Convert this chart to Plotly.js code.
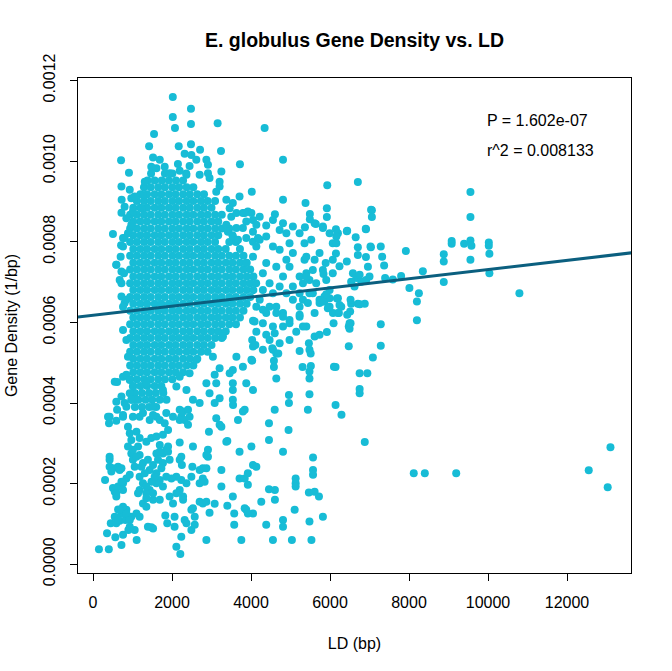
<!DOCTYPE html>
<html>
<head>
<meta charset="utf-8">
<script src="https://cdn.plot.ly/plotly-3.0.1.min.js"></script>
<style>
  html, body { margin: 0; padding: 0; background: #fff; }
</style>
</head>
<body>
<div id="ld_density"></div>
<script>
// dense core of the cloud, read row by row (LD in bp, gene density in 1/bp)
var coreLd = [
  1380, 1560, 1740, 1920, 2100, 2280,
  1290, 1460, 1650, 1820, 2010, 2180, 2370, 2540,
  1200, 1370, 1560, 1730, 1920, 2090, 2280, 2450, 2640, 2810,
  1110, 1290, 1460, 1650, 1820, 2010, 2180, 2370, 2540, 2730, 2900, 3090,
  1020, 1200, 1370, 1560, 1730, 1920, 2090, 2280, 2450, 2640, 2810, 3000,
  940, 1110, 1290, 1460, 1650, 1820, 2010, 2180, 2370, 2540, 2730, 2900, 3090, 3260,
  1020, 1200, 1370, 1560, 1730, 1920, 2090, 2280, 2450, 2640, 2810, 3000, 3170,
  940, 1110, 1290, 1460, 1650, 1820, 2010, 2180, 2370, 2540, 2730, 2900, 3090, 3260, 3450,
  1020, 1200, 1370, 1560, 1730, 1920, 2090, 2280, 2450, 2640, 2810, 3000, 3170, 3530,
  940, 1110, 1290, 1460, 1650, 1820, 2010, 2180, 2370, 2540, 2730, 2900, 3090, 3450, 3620,
  1020, 1200, 1370, 1560, 1730, 1920, 2090, 2280, 2450, 2640, 2810, 3000, 3170, 3360, 3720,
  940, 1110, 1290, 1460, 1650, 1820, 2010, 2180, 2370, 2540, 2730, 2900, 3090, 3260, 3450, 3620, 3810,
  1020, 1200, 1370, 1560, 1730, 1920, 2090, 2280, 2450, 2640, 2810, 3000, 3170, 3360, 3530, 3720, 3890,
  940, 1110, 1290, 1460, 1650, 1820, 2010, 2180, 2370, 2540, 2730, 2900, 3090, 3260, 3450, 3620, 3810, 3980,
  1020, 1200, 1370, 1560, 1730, 1920, 2090, 2280, 2450, 2640, 2810, 3000, 3170, 3360, 3530, 3720, 3890, 4060,
  940, 1110, 1290, 1460, 1650, 1820, 2010, 2180, 2370, 2540, 2730, 2900, 3090, 3260, 3450, 3620, 3810, 3980, 4130,
  1020, 1200, 1370, 1560, 1730, 1920, 2090, 2280, 2450, 2640, 2810, 3000, 3170, 3360, 3530, 3720, 3890, 4060,
  940, 1110, 1290, 1460, 1650, 1820, 2010, 2180, 2370, 2540, 2730, 2900, 3090, 3260, 3450, 3620, 3810, 3980,
  1020, 1200, 1370, 1560, 1730, 1920, 2090, 2280, 2450, 2640, 2810, 3000, 3170, 3360, 3530, 3720, 3890,
  940, 1110, 1290, 1460, 1650, 1820, 2010, 2180, 2370, 2540, 2730, 2900, 3090, 3260, 3450, 3620, 3810,
  1020, 1200, 1370, 1560, 1730, 1920, 2090, 2280, 2450, 2640, 2810, 3000, 3170, 3360, 3530, 3720,
  940, 1110, 1290, 1460, 1650, 1820, 2010, 2180, 2370, 2540, 2730, 2900, 3090, 3260, 3450, 3620,
  1020, 1200, 1370, 1560, 1730, 1920, 2090, 2280, 2450, 2640, 2810, 3000, 3170, 3360,
  940, 1110, 1290, 1460, 1650, 1820, 2010, 2180, 2370, 2540, 2730, 2900, 3090, 3260,
  1020, 1200, 1370, 1560, 1730, 1920, 2090, 2280, 2450, 2640, 2810, 3000,
  940, 1110, 1290, 1460, 1650, 1820, 2010, 2180, 2370, 2540, 2730, 2900,
  1020, 1200, 1370, 1560, 1730, 1920, 2090, 2280, 2450, 2640,
  940, 1110, 1290, 1460, 1650, 1820, 2010, 2180, 2370, 2540,
  1020, 1200, 1370, 1560, 1730, 1920, 2090, 2280,
  940, 1110, 1290, 1460, 1650, 1820, 2010,
  1020, 1200, 1370, 1560, 1730
];
var coreDensity = [
  0.000952, 0.000952, 0.000952, 0.000952, 0.000952, 0.000952,
  0.000935, 0.000935, 0.000935, 0.000935, 0.000935, 0.000935, 0.000935, 0.000935,
  0.000918, 0.000918, 0.000918, 0.000918, 0.000918, 0.000918, 0.000918, 0.000918, 0.000918, 0.000918,
  0.000901, 0.000901, 0.000901, 0.000901, 0.000901, 0.000901, 0.000901, 0.000901, 0.000901, 0.000901, 0.000901, 0.000901,
  0.000884, 0.000884, 0.000884, 0.000884, 0.000884, 0.000884, 0.000884, 0.000884, 0.000884, 0.000884, 0.000884, 0.000884,
  0.000867, 0.000867, 0.000867, 0.000867, 0.000867, 0.000867, 0.000867, 0.000867, 0.000867, 0.000867, 0.000867, 0.000867, 0.000867, 0.000867,
  0.00085, 0.00085, 0.00085, 0.00085, 0.00085, 0.00085, 0.00085, 0.00085, 0.00085, 0.00085, 0.00085, 0.00085, 0.00085,
  0.000833, 0.000833, 0.000833, 0.000833, 0.000833, 0.000833, 0.000833, 0.000833, 0.000833, 0.000833, 0.000833, 0.000833, 0.000833, 0.000833, 0.000833,
  0.000816, 0.000816, 0.000816, 0.000816, 0.000816, 0.000816, 0.000816, 0.000816, 0.000816, 0.000816, 0.000816, 0.000816, 0.000816, 0.000816,
  0.000799, 0.000799, 0.000799, 0.000799, 0.000799, 0.000799, 0.000799, 0.000799, 0.000799, 0.000799, 0.000799, 0.000799, 0.000799, 0.000799, 0.000799,
  0.000782, 0.000782, 0.000782, 0.000782, 0.000782, 0.000782, 0.000782, 0.000782, 0.000782, 0.000782, 0.000782, 0.000782, 0.000782, 0.000782, 0.000782,
  0.000765, 0.000765, 0.000765, 0.000765, 0.000765, 0.000765, 0.000765, 0.000765, 0.000765, 0.000765, 0.000765, 0.000765, 0.000765, 0.000765, 0.000765, 0.000765, 0.000765,
  0.000748, 0.000748, 0.000748, 0.000748, 0.000748, 0.000748, 0.000748, 0.000748, 0.000748, 0.000748, 0.000748, 0.000748, 0.000748, 0.000748, 0.000748, 0.000748, 0.000748,
  0.000731, 0.000731, 0.000731, 0.000731, 0.000731, 0.000731, 0.000731, 0.000731, 0.000731, 0.000731, 0.000731, 0.000731, 0.000731, 0.000731, 0.000731, 0.000731, 0.000731, 0.000731,
  0.000714, 0.000714, 0.000714, 0.000714, 0.000714, 0.000714, 0.000714, 0.000714, 0.000714, 0.000714, 0.000714, 0.000714, 0.000714, 0.000714, 0.000714, 0.000714, 0.000714, 0.000714,
  0.000697, 0.000697, 0.000697, 0.000697, 0.000697, 0.000697, 0.000697, 0.000697, 0.000697, 0.000697, 0.000697, 0.000697, 0.000697, 0.000697, 0.000697, 0.000697, 0.000697, 0.000697, 0.000697,
  0.00068, 0.00068, 0.00068, 0.00068, 0.00068, 0.00068, 0.00068, 0.00068, 0.00068, 0.00068, 0.00068, 0.00068, 0.00068, 0.00068, 0.00068, 0.00068, 0.00068, 0.00068,
  0.000663, 0.000663, 0.000663, 0.000663, 0.000663, 0.000663, 0.000663, 0.000663, 0.000663, 0.000663, 0.000663, 0.000663, 0.000663, 0.000663, 0.000663, 0.000663, 0.000663, 0.000663,
  0.000646, 0.000646, 0.000646, 0.000646, 0.000646, 0.000646, 0.000646, 0.000646, 0.000646, 0.000646, 0.000646, 0.000646, 0.000646, 0.000646, 0.000646, 0.000646, 0.000646,
  0.000629, 0.000629, 0.000629, 0.000629, 0.000629, 0.000629, 0.000629, 0.000629, 0.000629, 0.000629, 0.000629, 0.000629, 0.000629, 0.000629, 0.000629, 0.000629, 0.000629,
  0.000612, 0.000612, 0.000612, 0.000612, 0.000612, 0.000612, 0.000612, 0.000612, 0.000612, 0.000612, 0.000612, 0.000612, 0.000612, 0.000612, 0.000612, 0.000612,
  0.000595, 0.000595, 0.000595, 0.000595, 0.000595, 0.000595, 0.000595, 0.000595, 0.000595, 0.000595, 0.000595, 0.000595, 0.000595, 0.000595, 0.000595, 0.000595,
  0.000578, 0.000578, 0.000578, 0.000578, 0.000578, 0.000578, 0.000578, 0.000578, 0.000578, 0.000578, 0.000578, 0.000578, 0.000578, 0.000578,
  0.000561, 0.000561, 0.000561, 0.000561, 0.000561, 0.000561, 0.000561, 0.000561, 0.000561, 0.000561, 0.000561, 0.000561, 0.000561, 0.000561,
  0.000544, 0.000544, 0.000544, 0.000544, 0.000544, 0.000544, 0.000544, 0.000544, 0.000544, 0.000544, 0.000544, 0.000544,
  0.000527, 0.000527, 0.000527, 0.000527, 0.000527, 0.000527, 0.000527, 0.000527, 0.000527, 0.000527, 0.000527, 0.000527,
  0.00051, 0.00051, 0.00051, 0.00051, 0.00051, 0.00051, 0.00051, 0.00051, 0.00051, 0.00051,
  0.000493, 0.000493, 0.000493, 0.000493, 0.000493, 0.000493, 0.000493, 0.000493, 0.000493, 0.000493,
  0.000476, 0.000476, 0.000476, 0.000476, 0.000476, 0.000476, 0.000476, 0.000476,
  0.000459, 0.000459, 0.000459, 0.000459, 0.000459, 0.000459, 0.000459,
  0.000442, 0.000442, 0.000442, 0.000442, 0.000442
];

// ragged top and bottom edges of the core
var fringeLd = [1470, 1820, 2010, 2360,
  1060, 1240, 1420, 1590, 1780,
  980, 1150, 1330, 1500, 1690, 1860,
  1060, 1240, 1420, 1600];
var fringeDensity = [0.000969, 0.000969, 0.000969, 0.000969,
  0.000425, 0.000425, 0.000425, 0.000425, 0.000425,
  0.000408, 0.000408, 0.000408, 0.000408, 0.000408, 0.000408,
  0.00039, 0.00039, 0.00039, 0.00039];

// high outliers and upper fringe
var topLd = [2020, 2480, 2020, 2480, 2075, 3155, 1545, 1420, 2170, 2480, 2710, 3240, 710, 3720,
  910, 4020, 505, 710, 720, 725, 720, 590, 4345, 4810, 4810, 5930, 5380, 4605,
  1310, 1475, 1520, 1690, 1815, 2150, 2320, 2490, 2615, 2870, 2910, 2195, 2445, 2365, 2700,
  2910, 2950, 3250, 3205, 3205, 3120, 1605, 1940, 970, 930, 1055, 1265, 1225, 1010, 800, 845, 760, 970];
var topDensity = [0.001159, 0.00113, 0.001109, 0.001092, 0.001082, 0.001094, 0.001067, 0.001037, 0.001037, 0.001042, 0.001028, 0.001025, 0.001002, 0.000992,
  0.000971, 0.000924, 0.000819, 0.000791, 0.000937, 0.000904, 0.000872, 0.000743, 0.001082, 0.001003, 0.000904, 0.00094, 0.000896, 0.000868,
  0.000949, 0.000986, 0.001009, 0.001003, 0.000986, 0.000993, 0.001018, 0.001015, 0.001003, 0.001003, 0.000991, 0.000976, 0.000988, 0.000966, 0.000966,
  0.00097, 0.000958, 0.000974, 0.000949, 0.000937, 0.000924, 0.000982, 0.00097, 0.000908, 0.000929, 0.000912, 0.000916, 0.000883, 0.000875, 0.000887, 0.000858, 0.000809, 0.000842];

// middle band, 3300 - 7400 bp
var midLd = [3375, 3540, 3710, 3460, 3500, 3630, 3795, 3920, 4010, 4050, 4135, 3880, 3795, 3630, 3375, 3415, 4050, 3540, 3670, 3880, 4050, 4175,
  3840, 4220, 4385, 4555, 4725, 4810, 4895, 4975, 5060, 4895, 4725, 4555, 4385, 4220, 4135, 4050, 3880, 4385, 4300, 4640,
  4810, 4975, 5060, 5230, 5355, 5400, 5480, 5565, 5650, 5735, 5860, 5945, 5990, 6070, 6070, 6070, 5990, 5820, 5610, 5525,
  5355, 5230, 5060, 5400, 5610, 5735, 5820, 5565, 5230, 5060, 4895, 4725, 4555, 4640, 4810, 4975, 5230, 5400, 4385, 4220, 4470, 4300,
  4135, 4300, 4470, 4640, 4810, 4300, 4555, 4810, 4135, 4385, 4600, 4975, 5230, 5315, 5610, 4050, 4050, 4300, 4555, 4640,
  4030, 4470, 4725, 4975, 5145, 5315, 5440, 5230, 5480, 5315, 5400, 5735, 5860, 5990, 6200, 6285, 6200,
  6705, 5920, 5490, 5490, 5920, 7060, 7060, 5640, 5820, 5365, 6150, 6200, 6425, 6910, 6160, 6160, 6650, 6705, 6705, 7035,
  7285, 7320, 7370, 6910, 6240, 6425, 6150, 5890, 5835, 5905, 6580, 6665, 6790, 6750, 6915, 7000, 6535, 6620, 6960, 6175,
  6240, 6535, 6705, 6880, 6510, 6495, 6495, 6075, 6090, 5920, 5835, 5990, 5905, 7040, 6905, 7025, 6435, 6475, 6225, 6435,
  6520, 6520, 6755];
var midDensity = [0.000904, 0.000896, 0.000912, 0.000883, 0.000862, 0.000871, 0.000871, 0.000875, 0.000871, 0.000854, 0.000842, 0.00085, 0.000834, 0.000834, 0.000842, 0.000825, 0.000825, 0.000813, 0.000805, 0.000809, 0.0008, 0.000809,
  0.000871, 0.000862, 0.00084, 0.000854, 0.000829, 0.000846, 0.000821, 0.000796, 0.000772, 0.000755, 0.00078, 0.000788, 0.000813, 0.000805, 0.000788, 0.000763, 0.000747, 0.000747, 0.000722, 0.000738,
  0.000714, 0.000738, 0.000689, 0.000714, 0.000755, 0.000722, 0.000705, 0.000672, 0.000697, 0.000656, 0.000664, 0.000635, 0.00068, 0.000722, 0.000755, 0.000796, 0.000821, 0.000838, 0.000846, 0.000805,
  0.000796, 0.000821, 0.000838, 0.000763, 0.000755, 0.000772, 0.00073, 0.00073, 0.000672, 0.000656, 0.000672, 0.000689, 0.000672, 0.000639, 0.000623, 0.000606, 0.000614, 0.00059, 0.000623, 0.000656, 0.000697, 0.00068,
  0.000639, 0.000631, 0.000639, 0.000623, 0.000614, 0.000598, 0.00059, 0.00059, 0.000577, 0.000569, 0.000573, 0.000598, 0.000619, 0.00059, 0.000623, 0.000604, 0.00054, 0.000532, 0.000532, 0.000523,
  0.000505, 0.000556, 0.000548, 0.000556, 0.000577, 0.000656, 0.000648, 0.000639, 0.000672, 0.000697, 0.000714, 0.000648, 0.000652, 0.00066, 0.00066, 0.000639, 0.000623,
  0.000948, 0.000883, 0.000869, 0.000856, 0.000861, 0.000878, 0.000861, 0.000844, 0.000834, 0.000836, 0.000831, 0.000821, 0.000826, 0.000831, 0.000813, 0.000796, 0.000811, 0.000786, 0.000767, 0.000786,
  0.000788, 0.000763, 0.000741, 0.000762, 0.000739, 0.000751, 0.000771, 0.000747, 0.00072, 0.000705, 0.000722, 0.00071, 0.000701, 0.000718, 0.000705, 0.000714, 0.000701, 0.000689, 0.000738, 0.000659,
  0.000643, 0.000646, 0.000646, 0.000646, 0.000627, 0.000598, 0.000584, 0.000623, 0.000598, 0.000576, 0.000652, 0.000639, 0.00067, 0.000879, 0.000832, 0.000788, 0.000827, 0.00059, 0.000623, 0.000619,
  0.000598, 0.000656, 0.000645];

// long-LD points on the right
var farLd = [7920, 8350, 7590, 7800, 7395, 8010, 8250, 8200, 8200, 9555, 9555, 9555, 9555, 9580, 9395, 9080,
  9080, 10020, 10020, 10035, 10035, 8880, 8880, 8880, 10795, 8120, 8400, 9195, 12550, 13100, 13030];
var farDensity = [0.000777, 0.000727, 0.000706, 0.000715, 0.00071, 0.000685, 0.000672, 0.000652, 0.000605, 0.000923, 0.000861, 0.000755, 0.000803, 0.00079, 0.000795, 0.000802,
  0.000795, 0.000798, 0.00079, 0.00077, 0.000722, 0.000769, 0.000751, 0.0007, 0.000672, 0.000226, 0.000226, 0.000226, 0.000233, 0.00029, 0.000191];

// lower band, 2000 - 7300 bp
var lowLd = [4110, 4580, 4580, 4690, 4540, 7285, 7285, 7085, 6475, 5465, 5480, 5510, 5230, 5515, 5305, 6100, 5610, 5735, 4030, 6750,
  6945, 6750, 6750, 6140, 6140, 6290, 6880, 4455, 4455, 4810, 4600, 4950, 4960, 4960, 4640, 5440, 5480, 5480, 5480,
  2870, 3120, 3205, 3545, 3880, 4050, 4010, 4090, 3290, 3540, 3795, 3630, 3035, 2615, 2445, 2195, 2365, 2110, 2530, 2700,
  2195, 2025, 1770, 1350, 1100, 845, 1520, 1180, 760, 1605, 2950, 3080, 3120, 3205, 3250, 3400, 3080, 3205, 3460, 3540,
  3540, 3540, 3670, 3840, 3710, 4010, 2195, 2235, 2195, 2320, 2280, 2405, 2405,
  4050, 4135, 4260, 4385, 4555, 4810, 4810, 4455, 4605, 4605, 5035, 5105, 5130, 5130, 5130, 5530, 5480, 5570, 5570, 5570,
  5465, 5610, 5720, 5820];
var lowDensity = [0.000544, 0.000505, 0.000489, 0.000523, 0.000536, 0.000595, 0.000542, 0.000513, 0.000541, 0.000548, 0.000532, 0.000523, 0.000529, 0.000492, 0.000489, 0.00049, 0.000565, 0.000569, 0.000556, 0.000474,
  0.000474, 0.000435, 0.000424, 0.000489, 0.000395, 0.000371, 0.000303, 0.000308, 0.00035, 0.000279, 0.000383, 0.000333, 0.0004, 0.00042, 0.000461, 0.000383, 0.000461, 0.000478, 0.000422,
  0.000449, 0.000449, 0.000412, 0.000395, 0.000449, 0.000432, 0.000507, 0.000602, 0.000565, 0.000482, 0.00049, 0.000515, 0.000515, 0.000507, 0.000474, 0.000465, 0.000432, 0.000441, 0.000408, 0.0004,
  0.000383, 0.000366, 0.000432, 0.000449, 0.000408, 0.000391, 0.000391, 0.000366, 0.000366, 0.000366, 0.000424, 0.0004, 0.000362, 0.000346, 0.000341, 0.000306, 0.00047, 0.000486, 0.000474, 0.000449,
  0.000432, 0.000408, 0.000358, 0.000383, 0.000279, 0.000292, 0.000302, 0.000366, 0.000358, 0.000358, 0.000379, 0.000383, 0.000346,
  0.000246, 0.000242, 0.000155, 0.000098, 0.00006, 0.00011, 0.000093, 0.000186, 0.000184, 0.00016, 0.00006, 0.000135, 0.000213, 0.000201, 0.000193, 0.00006, 0.000106, 0.000265, 0.000234, 0.000222,
  0.000178, 0.00018, 0.000168, 0.000118];

// short-LD column on the left
var leftLd = [590, 720, 720, 720, 800, 760, 845, 885, 550, 760, 720, 590, 420, 675, 845, 760, 785, 700, 760, 800,
  885, 380, 405, 590, 610, 610, 760, 800, 845, 930, 1010, 930, 970];
var leftDensity = [0.000743, 0.000726, 0.000697, 0.000664, 0.000648, 0.000581, 0.000556, 0.000515, 0.000453, 0.000465, 0.000416, 0.000403, 0.000366, 0.000705, 0.000656, 0.000639, 0.000722, 0.000763, 0.000788, 0.000809,
  0.000821, 0.000366, 0.00035, 0.000356, 0.000383, 0.000452, 0.00037, 0.0004, 0.00047, 0.000457, 0.000441, 0.000424, 0.000408];

// low-density tail
var tailLd = [885, 930, 970, 885, 970, 1010, 1055, 1100, 1180, 1140,
  1180, 1265, 1390, 1180, 1265, 1180, 1350, 1265, 1350, 1520,
  1435, 1435, 1520, 1605, 1690, 1770, 1605, 1480, 1390, 1520,
  1830, 1880, 2065, 2065, 2110, 2210, 2235, 2320, 2025, 1940,
  2195, 2280, 2365, 2235, 2110, 1985, 1855, 1855, 1900, 1690,
  1605, 1645, 1770, 1730, 2195, 2235, 2250, 2530, 2515, 2490,
  2700, 2780, 2490, 2530, 2700, 2780, 2870, 3080, 2950, 2365,
  2490, 2575, 2870, 2700, 2780, 2870, 2910, 2910, 2935, 3540,
  3575, 3575, 3400, 3755, 3710, 3840, 3920, 3880, 4050, 3920,
  1350, 1475, 1605, 1770, 1900, 1815, 1690, 1435, 1010, 1265,
  1520, 1855, 1010, 1100, 1225, 1310, 1560, 1350, 1520, 1690,
  1350, 1140, 1770, 1900, 1940, 1690, 2280, 2110, 2445, 2870,
  3375, 3795, 2825, 3250, 3250, 3840, 3920, 2575, 1475,
  150, 400, 720, 355, 565, 760, 1105, 450, 590, 675,
  550, 895, 1055, 820, 970, 1100, 1180, 720, 845, 760,
  635, 590, 550, 505, 635, 760, 845, 930, 305, 420,
  420, 505, 635, 720, 420, 465, 675, 590, 720, 760,
  675, 635, 845, 930, 930];
var tailDensity = [0.000341, 0.000325, 0.000308, 0.000292, 0.000275, 0.000259, 0.000242, 0.000329, 0.000313, 0.000292,
  0.000271, 0.000251, 0.000259, 0.000217, 0.000201, 0.000184, 0.000176, 0.000151, 0.000143, 0.00016,
  0.000184, 0.000234, 0.000246, 0.000226, 0.000209, 0.000193, 0.000201, 0.000205, 0.000093, 0.000089,
  0.000121, 0.000102, 0.000118, 0.000093, 0.0000437, 0.0000256, 0.0000685, 0.00011, 0.000151, 0.000168,
  0.000184, 0.000168, 0.000201, 0.000209, 0.000217, 0.000213, 0.000217, 0.000284, 0.000292, 0.000296,
  0.000275, 0.000259, 0.000251, 0.000238, 0.000259, 0.000267, 0.000246, 0.000292, 0.000242, 0.000217,
  0.000234, 0.000238, 0.000135, 0.000139, 0.000155, 0.000151, 0.000155, 0.00015, 0.000128, 0.000102,
  0.000085, 0.000098, 0.00006, 0.000201, 0.000213, 0.000238, 0.000267, 0.000284, 0.000329, 0.000168,
  0.000098, 0.000126, 0.000145, 0.00006, 0.000213, 0.000213, 0.000226, 0.000135, 0.000126, 0.000197,
  0.000304, 0.000313, 0.000317, 0.000321, 0.000333, 0.00035, 0.000358, 0.000358, 0.000366, 0.000375,
  0.00037, 0.000375, 0.000284, 0.000267, 0.000242, 0.000226, 0.000217, 0.000193, 0.000176, 0.00016,
  0.000164, 0.000176, 0.000275, 0.000279, 0.000259, 0.000279, 0.00016, 0.000176, 0.000366, 0.000271,
  0.000304, 0.000379, 0.000205, 0.000234, 0.000193, 0.000139, 0.000126, 0.000118, 0.000092,
  0.0000372, 0.0000372, 0.000048, 0.000077, 0.000067, 0.000073, 0.00006, 0.000102, 0.000102, 0.000108,
  0.000118, 0.000085, 0.000085, 0.00011, 0.000118, 0.000126, 0.000118, 0.000126, 0.000135, 0.000143,
  0.000136, 0.000168, 0.00018, 0.000189, 0.000193, 0.000201, 0.000213, 0.000222, 0.000209, 0.000242,
  0.000259, 0.000238, 0.000242, 0.000238, 0.000267, 0.00023, 0.000234, 0.000176, 0.000205, 0.000184,
  0.000135, 0.00011, 0.000126, 0.00011, 0.000093];

// fitted regression line (lm), two ends
var fitLd = [-1000, 15000];
var fitDensity = [0.000606, 0.000788];

var xTicks = [0, 2000, 4000, 6000, 8000, 10000, 12000];
var yTicks = [0, 0.0002, 0.0004, 0.0006, 0.0008, 0.001, 0.0012];

var ld = [].concat(coreLd, fringeLd, topLd, midLd, farLd, lowLd, leftLd, tailLd);
var density = [].concat(coreDensity, fringeDensity, topDensity, midDensity, farDensity, lowDensity, leftDensity, tailDensity);

var points = {
    x: ld,
    y: density,
    type: 'scatter',
    mode: 'markers',
    marker: { size: 8, color: '#17bcd6' },
    hoverinfo: 'skip'
};

var fit = {
    x: fitLd,
    y: fitDensity,
    type: 'scatter',
    mode: 'lines',
    line: { color: '#0b5f7f', width: 3 },
    hoverinfo: 'skip'
};

var axisStyle = {
    showline: true,
    mirror: true,
    linecolor: 'black',
    linewidth: 1,
    ticks: 'outside',
    ticklen: 7,
    tickcolor: 'black',
    showgrid: false,
    zeroline: false,
    automargin: false
};

var layout = {
    width: 672,
    height: 671,
    margin: { l: 78, r: 41, t: 78, b: 98, pad: 0 },
    paper_bgcolor: 'white',
    plot_bgcolor: 'white',
    showlegend: false,
    font: { family: '"Liberation Sans", Arial, sans-serif', size: 16, color: 'black' },
    title: {
        text: 'E. globulus Gene Density vs. LD',
        font: { size: 19.5, weight: 'bold' },
        x: 0.5, xref: 'paper',
        y: 1 - 40 / 671, yref: 'container', yanchor: 'middle'
    },
    xaxis: Object.assign({}, axisStyle, {
        range: [-380, 13620],
        tickvals: xTicks,
        tickformat: 'd',
        ticklabelstandoff: 8,
        title: { text: 'LD (bp)', font: { size: 16 }, standoff: 27 }
    }),
    yaxis: Object.assign({}, axisStyle, {
        range: [-0.0000216, 0.001206],
        tickvals: yTicks,
        tickformat: '.4f',
        tickangle: -90,
        ticklabelstandoff: 9,
        title: { text: 'Gene Density (1/bp)', font: { size: 16 }, standoff: 18 }
    }),
    annotations: [
        { x: 9930, y: 0.0011, xref: 'x', yref: 'y', text: 'P = 1.602e-07', showarrow: false, xanchor: 'left', yanchor: 'middle' },
        { x: 9930, y: 0.001026, xref: 'x', yref: 'y', text: 'r^2 = 0.008133', showarrow: false, xanchor: 'left', yanchor: 'middle' }
    ]
};

Plotly.newPlot('ld_density', [points, fit], layout, { displayModeBar: false, staticPlot: true });
</script>
</body>
</html>
